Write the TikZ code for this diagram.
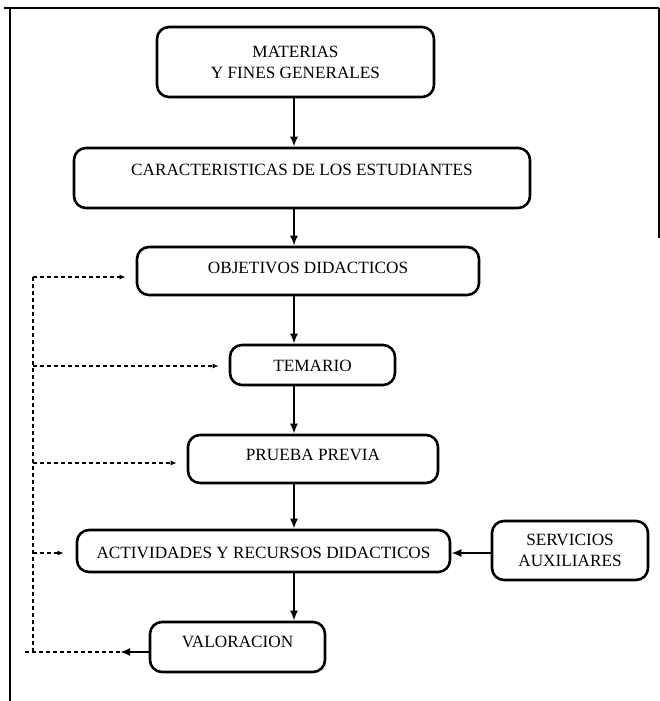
\documentclass[tikz,border=0pt]{standalone}
\usepackage{fontspec}
\setmainfont{Liberation Serif}
\usetikzlibrary{arrows.meta}
\begin{document}
\begin{tikzpicture}[x=1pt,y=-1pt,
  box/.style={draw, line width=2.6pt, rounded corners=12pt, inner sep=0pt, font=\fontsize{17.2}{21}\selectfont},
  flow/.style={line width=2.2pt, -{Latex[length=10pt,width=8pt]}},
  fb/.style={line width=1.3pt, dash pattern=on 4pt off 3pt},
  fbarrow/.style={fb, -{Latex[length=6pt,width=5pt]}, shorten >=10pt},
  frame/.style={line width=1.8pt}]
\useasboundingbox (0,0) rectangle (660,701);
% frame
\draw[frame] (4,8) -- (659,8);
\draw[frame] (10,8) -- (10,701);
\draw[frame] (659,8) -- (659,238);
% boxes
\node[box, minimum width=277pt, minimum height=70pt, align=center] (b1) at (295.5,62) {MATERIAS\\Y FINES GENERALES};
\node[box, minimum width=456pt, text height=27.3pt, text depth=32.7pt] (b2) at (302,178) {CARACTERISTICAS DE LOS ESTUDIANTES};
\node[box, minimum width=342pt, text height=26.3pt, text depth=21.7pt] (b3) at (308,271) {OBJETIVOS DIDACTICOS};
\node[box, minimum width=165pt, text height=26.3pt, text depth=13.7pt] (b4) at (312.5,365) {TEMARIO};
\node[box, minimum width=250pt, text height=25.3pt, text depth=22.7pt] (b5) at (313,459) {PRUEBA PREVIA};
\node[box, minimum width=373pt, text height=28.3pt, text depth=13.7pt] (b6) at (263.5,551) {ACTIVIDADES Y RECURSOS DIDACTICOS};
\node[box, minimum width=156pt, minimum height=59pt, align=center] (b7) at (570,550.5) {SERVICIOS\\AUXILIARES};
\node[box, minimum width=175pt, text height=25.3pt, text depth=24.7pt] (b8) at (237.5,647) {VALORACION};
% main flow
\coordinate (ax) at (294,0);
\draw[flow] (b1.south -| ax) -- (b2.north -| ax);
\draw[flow] (b2.south -| ax) -- (b3.north -| ax);
\draw[flow] (b3.south -| ax) -- (b4.north -| ax);
\draw[flow] (b4.south -| ax) -- (b5.north -| ax);
\draw[flow] (b5.south -| ax) -- (b6.north -| ax);
\draw[flow] (b6.south -| ax) -- (b8.north -| ax);
\coordinate (sy) at (0,553);
\draw[flow] (b7.west |- sy) -- (b6.east |- sy);
% feedback
\coordinate (v1) at (120,652);
\coordinate (fend) at (25,652);
\coordinate (t8) at (33,652);
\coordinate (t3) at (33,277);
\coordinate (t4) at (33,366);
\coordinate (t5) at (33,463);
\coordinate (t6) at (33,553);
\draw[flow] (b8.west |- v1) -- (v1);
\draw[fb] (v1) -- (fend);
\draw[fb] (t8) -- (t3);
\draw[fbarrow] (t3) -- (b3.west |- t3);
\draw[fbarrow] (t4) -- (b4.west |- t4);
\draw[fbarrow] (t5) -- (b5.west |- t5);
\draw[fbarrow, shorten >=12pt] (t6) -- (b6.west |- t6);
\end{tikzpicture}
\end{document}
